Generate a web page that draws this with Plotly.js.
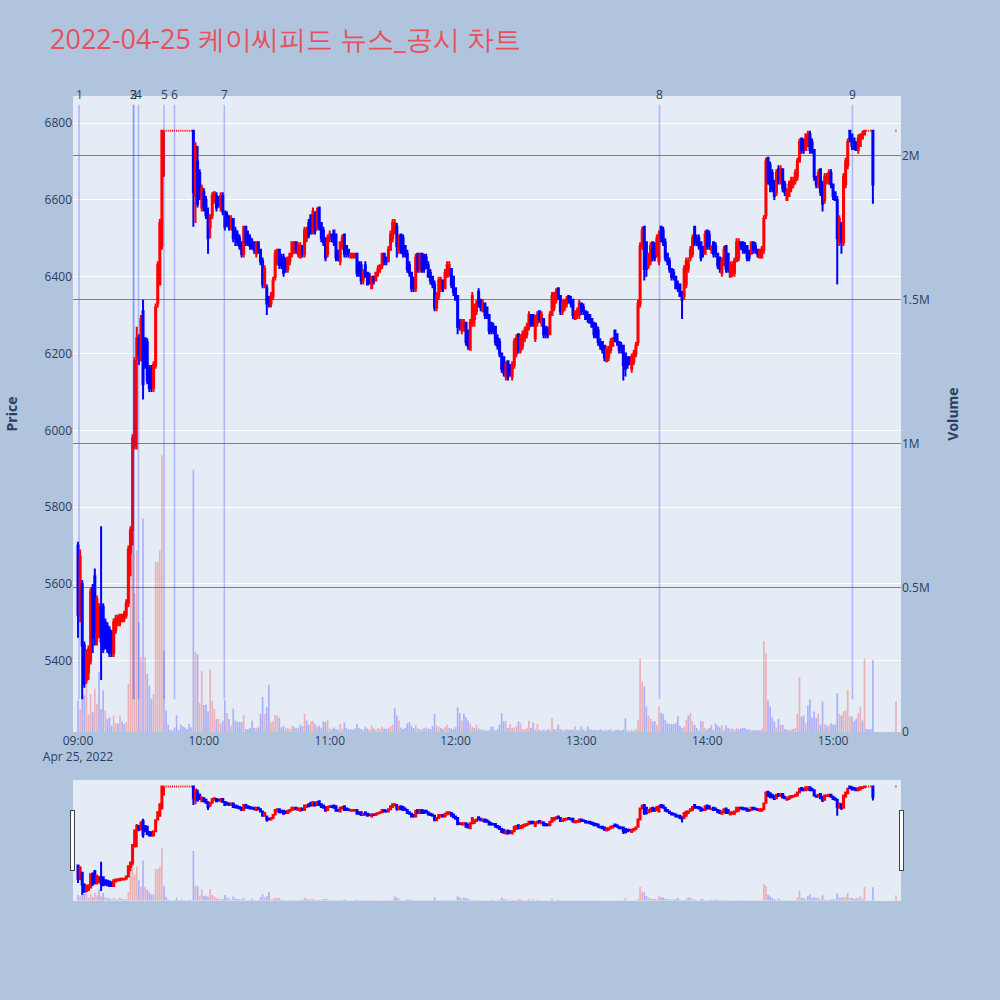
<!DOCTYPE html>
<html>
<head>
<meta charset="utf-8">
<script src="https://cdn.plot.ly/plotly-3.0.1.min.js"></script>
<style>html,body{margin:0;padding:0;background:#B0C4DE;}</style>
</head>
<body>
<div id="chart" style="width:1000px;height:1000px;"></div>
<script>
// KC Feed (케이씨피드), 1-minute candles for 2022-04-25
const tradeDate = '2022-04-25';

// continuous session 09:00–15:19 (minutes 0..379), then the 15:30 closing auction
const sessionMinutes = [];
for (let m = 0; m <= 379; m++) sessionMinutes.push(m);
sessionMinutes.push(390);

const opens = [
  5700,5520,5600,5440,5350,5370,5400,5590,5620,5460,
  5480,5540,5540,5500,5490,5480,5470,5420,5480,5500,
  5500,5510,5510,5520,5550,5680,5740,5960,6190,6240,
  6200,6310,6240,6230,6160,6150,6110,6170,6330,6380,
  6480,6780,6780,6780,6780,6780,6780,6780,6780,6780,
  6780,6780,6780,6780,6780,6780,6610,6700,6670,6580,
  6620,6600,6560,6530,6560,6600,6610,6600,6580,6610,
  6570,6560,6550,6530,6550,6520,6510,6500,6490,6460,
  6530,6510,6500,6490,6490,6460,6490,6470,6440,6380,
  6370,6340,6330,6350,6400,6440,6470,6450,6450,6440,
  6420,6440,6460,6470,6490,6460,6450,6480,6460,6500,
  6540,6560,6520,6560,6530,6580,6540,6520,6500,6460,
  6500,6510,6520,6510,6460,6440,6480,6510,6480,6470,
  6450,6450,6450,6460,6430,6430,6390,6430,6410,6400,
  6370,6400,6390,6410,6420,6430,6460,6450,6440,6470,
  6500,6520,6530,6470,6510,6500,6480,6460,6430,6410,
  6390,6370,6460,6420,6460,6450,6450,6430,6410,6400,
  6380,6320,6350,6370,6390,6370,6400,6410,6420,6400,
  6370,6350,6280,6260,6260,6280,6260,6210,6280,6290,
  6310,6360,6340,6310,6330,6320,6300,6280,6270,6270,
  6240,6230,6200,6190,6140,6180,6170,6140,6170,6200,
  6250,6210,6220,6240,6250,6270,6300,6300,6240,6280,
  6310,6280,6290,6270,6260,6250,6300,6320,6340,6370,
  6350,6310,6320,6330,6350,6340,6340,6290,6300,6300,
  6330,6320,6310,6300,6300,6290,6280,6270,6260,6230,
  6230,6220,6180,6190,6210,6220,6260,6250,6230,6220,
  6220,6200,6190,6190,6160,6180,6200,6230,6330,6480,
  6530,6490,6430,6440,6490,6480,6460,6440,6530,6520,
  6490,6460,6440,6420,6410,6400,6380,6380,6360,6350,
  6380,6420,6450,6460,6530,6500,6500,6490,6470,6460,
  6520,6510,6470,6490,6480,6460,6450,6410,6430,6480,
  6460,6400,6410,6410,6440,6450,6490,6490,6480,6480,
  6460,6460,6490,6480,6470,6450,6450,6470,6560,6710,
  6690,6670,6650,6620,6680,6650,6680,6640,6600,6610,
  6630,6640,6650,6660,6700,6760,6750,6730,6740,6770,
  6750,6730,6660,6640,6680,6640,6600,6650,6650,6670,
  6640,6620,6600,6490,6540,6490,6640,6690,6780,6770,
  6760,6750,6730,6740,6760,6770,6780,6780,6780,6780,
  6780
];

const highs = [
  5710,5690,5610,5450,5430,5440,5590,5600,5640,5570,
  5550,5750,5550,5510,5500,5490,5480,5510,5520,5520,
  5520,5520,5530,5560,5700,5750,5990,6190,6270,6250,
  6300,6340,6240,6240,6170,6170,6180,6330,6440,6550,
  6780,6780,6780,6780,6780,6780,6780,6780,6780,6780,
  6780,6780,6780,6780,6780,6780,6750,6740,6680,6640,
  6630,6610,6580,6560,6620,6620,6620,6610,6620,6620,
  6570,6570,6560,6560,6550,6530,6520,6510,6490,6530,
  6530,6520,6510,6500,6490,6490,6490,6470,6450,6430,
  6380,6350,6360,6400,6470,6470,6470,6460,6460,6450,
  6450,6460,6490,6490,6490,6490,6490,6480,6530,6530,
  6550,6560,6580,6570,6580,6580,6540,6530,6500,6510,
  6520,6510,6520,6510,6470,6490,6510,6510,6480,6470,
  6460,6460,6460,6460,6440,6440,6420,6440,6410,6410,
  6400,6400,6410,6430,6430,6460,6460,6450,6480,6520,
  6550,6550,6540,6510,6510,6510,6480,6470,6440,6410,
  6400,6460,6460,6460,6460,6460,6460,6440,6420,6400,
  6390,6360,6400,6400,6390,6420,6440,6440,6420,6400,
  6370,6350,6290,6290,6290,6280,6260,6290,6360,6330,
  6340,6370,6340,6340,6330,6320,6300,6280,6280,6270,
  6250,6240,6200,6190,6180,6180,6170,6180,6240,6250,
  6250,6250,6260,6270,6280,6310,6300,6300,6300,6310,
  6310,6310,6290,6270,6270,6310,6360,6360,6370,6370,
  6350,6340,6340,6350,6350,6350,6340,6310,6320,6340,
  6330,6330,6310,6310,6300,6290,6280,6280,6270,6240,
  6230,6220,6220,6220,6240,6240,6260,6250,6230,6230,
  6220,6200,6190,6190,6200,6210,6230,6340,6490,6530,
  6530,6490,6460,6490,6490,6490,6510,6520,6530,6530,
  6500,6460,6450,6420,6420,6400,6390,6380,6360,6430,
  6450,6450,6480,6510,6530,6510,6510,6490,6480,6520,
  6520,6520,6480,6490,6490,6460,6450,6450,6480,6480,
  6460,6440,6440,6450,6500,6500,6490,6490,6490,6480,
  6470,6490,6490,6490,6470,6470,6480,6560,6710,6710,
  6700,6680,6650,6680,6690,6690,6680,6650,6630,6650,
  6660,6660,6680,6710,6760,6760,6760,6770,6780,6780,
  6760,6730,6660,6680,6680,6650,6670,6670,6680,6680,
  6640,6620,6610,6560,6540,6670,6710,6760,6780,6770,
  6760,6750,6770,6770,6780,6780,6780,6780,6780,6780,
  6780
];

const lows = [
  5460,5500,5300,5330,5340,5350,5390,5420,5440,5440,
  5460,5350,5420,5430,5420,5410,5410,5410,5470,5490,
  5490,5500,5500,5510,5540,5620,5700,5950,5950,6170,
  6180,6080,6160,6120,6100,6100,6100,6160,6320,6380,
  6470,6660,6780,6780,6780,6780,6780,6780,6780,6780,
  6780,6780,6780,6780,6780,6530,6540,6580,6600,6570,
  6570,6550,6460,6500,6550,6590,6570,6580,6570,6560,
  6520,6530,6520,6520,6490,6480,6480,6470,6450,6450,
  6480,6480,6470,6470,6460,6450,6460,6430,6370,6370,
  6300,6320,6320,6340,6390,6430,6420,6420,6400,6410,
  6410,6430,6450,6460,6460,6450,6450,6450,6450,6490,
  6500,6510,6510,6510,6520,6520,6490,6480,6440,6450,
  6490,6490,6480,6440,6440,6430,6470,6450,6450,6450,
  6450,6450,6450,6400,6400,6380,6380,6400,6380,6380,
  6370,6380,6390,6400,6410,6420,6430,6430,6440,6470,
  6490,6510,6450,6460,6460,6450,6450,6410,6400,6360,
  6360,6360,6410,6410,6410,6410,6420,6400,6380,6370,
  6310,6310,6340,6360,6360,6370,6400,6400,6370,6350,
  6340,6250,6260,6250,6260,6220,6210,6210,6270,6270,
  6300,6320,6310,6310,6290,6290,6250,6250,6250,6220,
  6210,6190,6150,6140,6130,6130,6140,6130,6160,6190,
  6200,6200,6210,6230,6240,6260,6270,6270,6230,6270,
  6280,6270,6240,6240,6240,6250,6300,6310,6330,6340,
  6300,6300,6310,6320,6330,6320,6290,6290,6290,6290,
  6300,6300,6290,6280,6280,6270,6240,6240,6220,6210,
  6200,6180,6180,6180,6200,6220,6230,6220,6200,6200,
  6130,6140,6160,6170,6150,6170,6190,6220,6320,6470,
  6390,6400,6420,6430,6440,6440,6450,6430,6490,6480,
  6440,6430,6410,6390,6390,6370,6360,6350,6290,6340,
  6370,6410,6440,6450,6480,6480,6470,6440,6450,6460,
  6470,6470,6460,6450,6450,6420,6410,6400,6430,6410,
  6410,6400,6400,6400,6440,6440,6470,6460,6460,6440,
  6440,6460,6460,6460,6450,6450,6450,6460,6550,6640,
  6620,6620,6600,6610,6640,6640,6620,6610,6600,6610,
  6620,6630,6640,6650,6700,6720,6720,6730,6740,6720,
  6720,6650,6630,6630,6610,6570,6590,6640,6640,6630,
  6600,6600,6380,6480,6460,6480,6630,6680,6750,6730,
  6730,6730,6720,6740,6760,6770,6780,6780,6780,6590,
  6780
];

const closes = [
  5520,5670,5440,5340,5420,5430,5580,5460,5470,5560,
  5540,5450,5430,5440,5430,5420,5420,5500,5510,5510,
  5520,5520,5520,5550,5690,5740,5980,6180,6240,6200,
  6290,6120,6170,6130,6110,6110,6170,6320,6430,6540,
  6780,6780,6780,6780,6780,6780,6780,6780,6780,6780,
  6780,6780,6780,6780,6780,6620,6740,6590,6610,6630,
  6580,6560,6500,6560,6610,6620,6580,6590,6610,6570,
  6530,6540,6530,6550,6500,6500,6490,6480,6460,6530,
  6490,6490,6480,6480,6470,6490,6470,6440,6380,6420,
  6330,6330,6350,6390,6460,6470,6430,6430,6410,6420,
  6450,6460,6490,6490,6470,6480,6480,6460,6520,6520,
  6510,6520,6570,6520,6570,6530,6500,6490,6450,6500,
  6510,6500,6490,6450,6450,6490,6500,6460,6460,6460,
  6460,6460,6460,6410,6410,6390,6410,6400,6380,6390,
  6400,6390,6410,6420,6430,6460,6440,6440,6470,6510,
  6540,6540,6480,6500,6470,6460,6460,6420,6410,6370,
  6370,6450,6420,6460,6420,6420,6430,6400,6390,6380,
  6320,6350,6390,6390,6370,6410,6430,6430,6380,6360,
  6340,6270,6270,6280,6280,6230,6220,6280,6350,6320,
  6330,6330,6320,6330,6300,6300,6260,6260,6260,6230,
  6220,6200,6160,6150,6170,6140,6150,6170,6230,6240,
  6210,6240,6250,6260,6270,6300,6280,6280,6290,6300,
  6290,6300,6250,6250,6250,6300,6350,6350,6360,6350,
  6310,6330,6340,6340,6340,6330,6300,6310,6310,6330,
  6310,6310,6290,6290,6280,6270,6250,6250,6230,6220,
  6210,6190,6210,6210,6230,6240,6240,6230,6210,6210,
  6170,6160,6170,6180,6190,6200,6220,6330,6480,6520,
  6420,6420,6460,6480,6450,6450,6500,6510,6500,6490,
  6450,6440,6420,6400,6400,6370,6370,6350,6340,6420,
  6440,6440,6470,6500,6490,6490,6480,6450,6460,6510,
  6480,6480,6480,6460,6460,6430,6420,6440,6470,6420,
  6420,6430,6430,6440,6490,6490,6480,6470,6470,6450,
  6450,6490,6470,6470,6460,6470,6470,6550,6700,6650,
  6640,6630,6610,6670,6650,6680,6630,6620,6620,6640,
  6650,6650,6670,6700,6750,6730,6730,6770,6770,6730,
  6730,6660,6640,6670,6620,6590,6660,6660,6670,6640,
  6610,6600,6500,6550,6490,6660,6700,6750,6760,6740,
  6740,6730,6760,6770,6770,6780,6780,6780,6780,6640,
  6780
];

// traded volume per minute, in thousands of shares
const volumeThousands = [
  110,80,121,127,168,60,132,69,150,98,
  208,80,144,74,45,51,22,57,30,30,
  57,37,28,34,167,570,690,480,630,380,
  260,740,261,202,161,115,132,590,590,630,
  960,280,74,26,7,5,16,58,7,26,
  19,16,10,28,16,910,278,270,100,211,
  94,95,72,217,109,80,45,45,30,39,
  110,66,45,22,81,40,36,34,34,58,
  10,10,14,40,14,13,16,63,122,63,
  86,164,34,37,59,57,49,16,20,12,
  14,10,22,18,12,15,25,20,63,40,
  25,37,37,28,18,22,15,37,34,42,
  12,10,16,10,8,28,12,34,14,8,
  10,8,12,28,14,10,9,18,12,8,
  22,12,8,14,10,18,12,10,14,20,
  25,84,57,40,16,10,14,30,34,22,
  14,25,12,10,8,14,16,12,10,20,
  63,22,18,14,10,18,25,14,12,10,
  16,86,65,40,63,51,40,30,18,14,
  25,12,8,10,5,5,6,19,19,5,
  10,25,66,37,37,14,28,14,16,19,
  37,30,10,10,14,39,14,33,10,28,
  7,6,8,5,10,8,48,10,10,25,
  10,8,6,9,7,8,8,20,7,8,
  20,8,5,20,10,7,8,6,6,10,
  6,5,8,7,10,5,6,8,7,5,
  9,48,5,5,8,5,10,42,254,175,
  159,89,57,45,37,37,25,89,66,62,
  42,30,28,28,28,30,55,22,14,19,
  42,57,66,37,25,14,5,37,37,14,
  8,14,25,7,30,22,16,25,8,23,
  14,10,12,8,14,10,12,14,14,8,
  10,6,7,5,8,6,10,316,274,109,
  88,51,37,16,45,25,25,10,8,7,
  8,10,14,63,190,53,57,30,92,114,
  51,71,49,63,26,106,28,22,22,30,
  26,26,135,63,57,72,74,146,54,53,
  37,45,66,86,40,254,10,10,10,251,
  107
];

// news / disclosure markers
const newsLabels = ['1', '2', '3', '4', '5', '6', '7', '8', '9'];
const newsTimes = ['09:00:28', '09:26:20', '09:26:40', '09:28:50', '09:41:00',
                   '09:46:00', '10:09:45', '13:37:15', '15:09:15'];

const pad2 = n => String(n).padStart(2, '0');
const times = sessionMinutes.map(m => `${tradeDate} ${pad2(9 + Math.floor(m / 60))}:${pad2(m % 60)}`);
const volumes = volumeThousands.map(v => v * 1000);
const volumeColors = closes.map((c, i) => {
  const ref = i === 0 ? opens[0] : closes[i - 1];
  return c > ref ? 'rgba(255,0,0,0.25)' : 'rgba(0,0,255,0.25)';
});

const lowest = Math.min(...lows);
const markerTop = Math.max(...highs) * 1.01;

const candles = {
  type: 'candlestick',
  x: times, open: opens, high: highs, low: lows, close: closes,
  increasing: { line: { color: 'red' }, fillcolor: 'red' },
  decreasing: { line: { color: 'blue' }, fillcolor: 'blue' },
  yaxis: 'y', hoverinfo: 'x+y'
};

const volumeBars = {
  type: 'bar', x: times, y: volumes,
  marker: { color: volumeColors },
  yaxis: 'y2', hoverinfo: 'x+y'
};

const shapes = newsTimes.map(t => ({
  type: 'line', xref: 'x', yref: 'y',
  x0: `${tradeDate} ${t}`, x1: `${tradeDate} ${t}`,
  y0: lowest, y1: markerTop,
  line: { color: 'rgba(40,70,255,0.3)', width: 1.6 }
}));

const annotations = newsTimes.map((t, i) => ({
  xref: 'x', yref: 'y', x: `${tradeDate} ${t}`, y: markerTop,
  yanchor: 'bottom', text: newsLabels[i], showarrow: false,
  font: { size: 12, color: '#2a3f5f' }
}));

const layout = {
  width: 1000, height: 1000,
  paper_bgcolor: '#B0C4DE', plot_bgcolor: '#E5ECF6',
  font: { family: '"Open Sans", verdana, arial, sans-serif', size: 12, color: '#2a3f5f' },
  margin: { l: 72, r: 99, t: 96, b: 100 },
  showlegend: false,
  title: {
    text: '2022-04-25 케이씨피드 뉴스_공시 차트',
    x: 0.05, xanchor: 'left', y: 0.96, yanchor: 'middle',
    font: { size: 27, color: '#e8505b' }
  },
  xaxis: {
    type: 'date',
    range: [`${tradeDate} 08:57:36`, `${tradeDate} 15:32:24`],
    showgrid: false, zeroline: false,
    rangeslider: { visible: true, thickness: 0.15, bgcolor: '#E5ECF6' }
  },
  yaxis: {
    title: { text: 'Price', font: { size: 14, weight: 'bold' }, standoff: 23 },
    automargin: true,
    range: [5214.5, 6870.5],
    gridcolor: 'white', zeroline: false
  },
  yaxis2: {
    title: { text: 'Volume', font: { size: 14, weight: 'bold' }, standoff: 19 },
    automargin: true,
    overlaying: 'y', side: 'right',
    range: [0, 2206000],
    gridcolor: 'gray', zeroline: false
  },
  shapes: shapes,
  annotations: annotations
};

Plotly.newPlot('chart', [candles, volumeBars], layout, { displayModeBar: false });
</script>
</body>
</html>
